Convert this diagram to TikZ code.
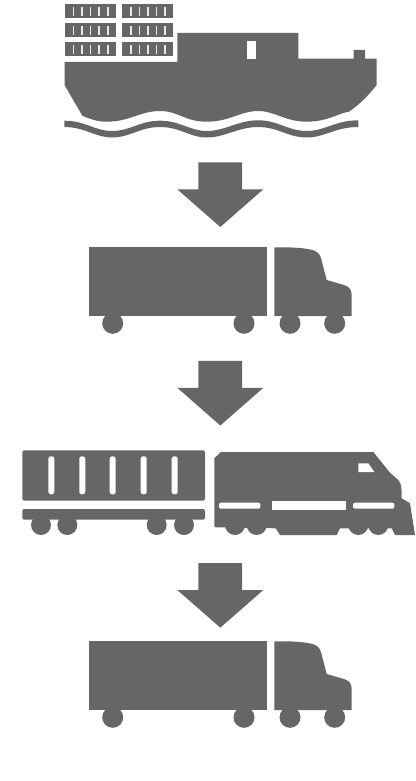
\documentclass[tikz,border=0pt]{standalone}
\definecolor{ink}{HTML}{666666}
\tikzset{
  flow arrow/.pic={\fill[ink] (198.3,162.3) -- (242,162.3) -- (242,189.3) -- (263.3,189.3) -- (220.3,227) -- (177.3,189.3) -- (198.3,189.3) -- cycle;},
  rig/.pic={
    \fill[ink] (89,247.3) rectangle (266.7,316);
    \fill[ink] (274.3,247.3) -- (285,247.3) .. controls (298,247.5) and (308,248.5) .. (314,250.5)
      .. controls (319,252.5) and (320,255) .. (321.5,260) -- (326.7,280) -- (344,285)
      .. controls (350,287) and (351.7,290) .. (351.7,296) -- (351.7,316) -- (274.3,316) -- cycle;
    \foreach \cx in {112.7,244,290,334.7} \fill[ink] (\cx,323.3) circle (10.5);
  }
}
\begin{document}
\begin{tikzpicture}[x=1pt,y=-1pt]
\useasboundingbox (0,0) rectangle (415,781);
% ship containers
\foreach \yy in {4.3,23.3,42.3}{
  \fill[ink] (65.3,\yy) rectangle +(51,13.7);
  \fill[ink] (122.3,\yy) rectangle +(51,13.7);
  \foreach \xx in {73.3,81.8,90.5,99,107.8,131,139.4,148,156.4,165}
    \fill[white!85!ink] (\xx-.7,\yy+2.3) rectangle +(1.4,9.2);
}
% hull
\fill[ink] (64.5,62) -- (177.3,62) -- (177.3,33) -- (298.3,33) -- (298.3,58.7) -- (353.7,58.7) -- (353.7,50) -- (365,50) -- (365,58.7) -- (376.7,58.7) -- (376.7,85)
  .. controls (368,96) and (360,104) .. (349,111.7)
  .. controls (340,112.5) and (328,121.7) .. (306.7,121.7)
  .. controls (285,121.7) and (275,111) .. (258.3,111)
  .. controls (240,111) and (230,121.7) .. (206.7,121.7)
  .. controls (185,121.7) and (178,111) .. (160,111)
  .. controls (140,111) and (130,121.7) .. (106.7,121.7)
  .. controls (97,121.7) and (90,119) .. (82.3,115.7)
  -- (64.5,85) -- cycle;
\fill[white] (246.5,41) rectangle (255.5,58.7);
% wave
\fill[ink] (64.3,120.7)
  .. controls (85,120.7) and (95,131) .. (112,131)
  .. controls (130,131) and (140,120.7) .. (160,120.7)
  .. controls (180,120.7) and (190,131) .. (206.7,131)
  .. controls (225,131) and (238,120.3) .. (258.3,120.3)
  .. controls (278,120.3) and (288,131) .. (306.7,131)
  .. controls (325,131) and (335,120.3) .. (358.3,120.3)
  -- (358.3,127)
  .. controls (335,127) and (325,137.5) .. (306.7,137.5)
  .. controls (288,137.5) and (278,127) .. (258.3,127)
  .. controls (238,127) and (225,137.5) .. (206.7,137.5)
  .. controls (190,137.5) and (180,127) .. (160,127)
  .. controls (140,127) and (130,137.5) .. (112,137.5)
  .. controls (95,137.5) and (85,127) .. (64.3,127) -- cycle;
% arrows
\pic at (0,0) {flow arrow};
\pic at (0,198.5) {flow arrow};
\pic at (0,400.7) {flow arrow};
% trucks
\pic at (0,0) {rig};
\pic at (0,394) {rig};
% train car
\fill[ink,rounded corners=1.5] (22.3,450.3) rectangle (205,500.7);
\foreach \xx in {51.3,82.3,112.7,143.7,174.7}
  \fill[white,rounded corners=2.5] (\xx-3,456.3) rectangle (\xx+3,494.3);
\fill[ink,rounded corners=1.5] (22.3,509) rectangle (205,519.7);
\foreach \xx in {41,67.3,156.7,184} \fill[ink] (\xx,525) circle (10);
% locomotive
\fill[ink] (214.3,458.3) -- (221,452) -- (373.3,452) -- (390,472.7) -- (398.3,480)
  .. controls (402,484) and (401.5,490) .. (401.7,498.3) -- (410,503.3) -- (415,535) -- (395,535) -- (391.7,528.3) -- (378,528.3)
  -- (340,528.3) -- (336.7,535) -- (280,535) -- (275.7,528.3) -- (215,527.3)
  .. controls (214.5,527.3) and (214.3,527) .. (214.3,526) -- cycle;
\foreach \xx in {235,256.7,358.3,378.3} \fill[ink] (\xx,525) circle (10);
\fill[white] (358.3,463.3) -- (368.3,463.3) -- (374.3,472) -- (358.3,472) -- cycle;
\fill[white,rounded corners=2] (219,502.7) rectangle (260.3,508.7);
\fill[white] (272.3,500.7) rectangle (345.7,509.7);
\fill[white,rounded corners=2] (353,502.7) rectangle (394.3,508.7);
\end{tikzpicture}
\end{document}
